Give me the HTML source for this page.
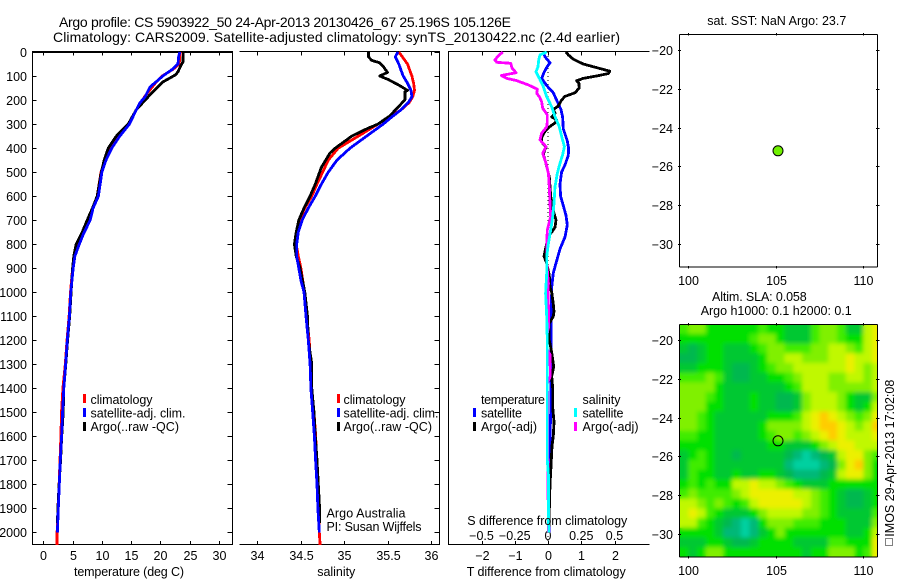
<!DOCTYPE html>
<html>
<head>
<meta charset="utf-8">
<title>Argo profile</title>
<style>
html,body{margin:0;padding:0;background:#fff;}
svg{display:block;}
text{font-family:"Liberation Sans",sans-serif;font-size:12.5px;fill:#000;}
</style>
</head>
<body>
<svg id="chart" xmlns="http://www.w3.org/2000/svg" width="900" height="580" viewBox="0 0 900 580">
  <defs>
    <clipPath id="heat-clip"><rect x="679.5" y="324" width="198" height="232.5"/></clipPath>
    <filter id="soft" x="-5%" y="-5%" width="110%" height="110%"><feGaussianBlur stdDeviation="2"/></filter>
  </defs>
  <text x="59" y="27" textLength="452" lengthAdjust="spacing" style="font-size:14px">Argo profile: CS 5903922_50 24-Apr-2013 20130426_67 25.196S 105.126E</text>
  <text x="53" y="42" textLength="567" lengthAdjust="spacing" style="font-size:14px">Climatology: CARS2009. Satellite-adjusted climatology: synTS_20130422.nc (2.4d earlier)</text>

  <g id="heat-layer" clip-path="url(#heat-clip)"></g>
  <g id="panels"></g>
  <g id="curves"></g>

  <!-- temperature legend -->
  <g>
    <rect x="83" y="394" width="3" height="9" fill="#f00"/>
    <rect x="83" y="408" width="3" height="9" fill="#00f"/>
    <rect x="83" y="422" width="3" height="9" fill="#000"/>
    <text x="90.5" y="404" textLength="62" lengthAdjust="spacing">climatology</text>
    <text x="90.5" y="417.5" textLength="95" lengthAdjust="spacing">satellite-adj. clim.</text>
    <text x="90.5" y="431" textLength="88.5" lengthAdjust="spacing">Argo(..raw -QC)</text>
  </g>
  <!-- salinity legend -->
  <g>
    <rect x="337" y="394" width="3" height="9" fill="#f00"/>
    <rect x="337" y="408" width="3" height="9" fill="#00f"/>
    <rect x="337" y="422" width="3" height="9" fill="#000"/>
    <text x="343.5" y="404" textLength="62" lengthAdjust="spacing">climatology</text>
    <text x="343.5" y="417.5" textLength="95" lengthAdjust="spacing">satellite-adj. clim.</text>
    <text x="343.5" y="431" textLength="88.5" lengthAdjust="spacing">Argo(..raw -QC)</text>
    <text x="326.5" y="517.5" textLength="79" lengthAdjust="spacing">Argo Australia</text>
    <text x="326.5" y="531" textLength="95" lengthAdjust="spacing">PI: Susan Wijffels</text>
  </g>
  <!-- difference legend -->
  <g>
    <text x="481" y="404" textLength="64" lengthAdjust="spacing">temperature</text>
    <rect x="473" y="408" width="3" height="9" fill="#00f"/>
    <rect x="473" y="422" width="3" height="9" fill="#000"/>
    <text x="481" y="417.5" textLength="41" lengthAdjust="spacing">satellite</text>
    <text x="481" y="431" textLength="56" lengthAdjust="spacing">Argo(-adj)</text>
    <text x="582.5" y="404" textLength="38" lengthAdjust="spacing">salinity</text>
    <rect x="574" y="408" width="3" height="9" fill="#0ff"/>
    <rect x="574" y="422" width="3" height="9" fill="#f0f"/>
    <text x="582.5" y="417.5" textLength="41" lengthAdjust="spacing">satellite</text>
    <text x="582.5" y="431" textLength="56" lengthAdjust="spacing">Argo(-adj)</text>
    <text x="467.3" y="525" textLength="160" lengthAdjust="spacing">S difference from climatology</text>
  </g>

  <text x="74" y="576" textLength="110" lengthAdjust="spacing">temperature (deg C)</text>
  <text x="317.3" y="576" textLength="38" lengthAdjust="spacing">salinity</text>
  <text x="466.7" y="576" textLength="159" lengthAdjust="spacing">T difference from climatology</text>

  <text x="707.3" y="25" textLength="139" lengthAdjust="spacing">sat. SST: NaN Argo: 23.7</text>
  <text x="712" y="301" textLength="94.7" lengthAdjust="spacing">Altim. SLA: 0.058</text>
  <text x="700.7" y="315" textLength="151" lengthAdjust="spacing">Argo h1000: 0.1 h2000: 0.1</text>

  <rect x="885.5" y="538.5" width="7" height="7" fill="none" stroke="#000" stroke-width="1" stroke-dasharray="1 1" shape-rendering="crispEdges"/>
  <text transform="translate(894,536.7) rotate(-90)" x="0" y="0" textLength="157" lengthAdjust="spacing">IMOS 29-Apr-2013 17:02:08</text>
</svg>

<script>
// ---------- temperature profiles ----------
const tempClimDepth = [0,20,50,71,100,130,186,240,300,352,400,450,500,600,650,700,755,800,850,900,1000,1100,1200,1300,1400,1500,1600,1700,1800,1900,2000,2053];
const tempClimValues = [23.4,23.3,23.2,22.2,20.3,19.1,17.3,15.9,14.6,12.9,11.6,10.6,9.85,9.2,8.4,7.7,6.6,5.95,5.3,5.0,4.65,4.4,4.05,3.75,3.35,3.1,3.0,2.85,2.7,2.5,2.35,2.35];
const tempSatDepth = [0,20,50,71,100,117,146,186,212,240,300,352,400,450,500,600,650,700,755,800,850,900,1000,1100,1200,1300,1400,1500,1600,1700,1800,1900,2000];
const tempSatValues = [23.3,23.1,23.0,22.1,20.4,19.6,18.2,17.4,16.5,15.9,14.7,13.0,11.7,10.7,10.0,9.4,8.5,8.0,6.9,6.15,5.4,5.1,4.7,4.45,4.1,3.8,3.5,3.3,3.13,2.9,2.73,2.56,2.4];
const tempArgoDepth = [0,41,60,83,96,125,179,240,300,352,400,450,500,600,650,700,755,800,850,900,1000,1100,1200,1300,1400,1500,1600,1700,1800,1900,1960];
const tempArgoValues = [23.9,23.85,23.4,23.0,22.5,20.4,18.2,15.9,14.5,12.4,11.1,10.4,9.9,9.2,8.4,7.5,6.55,5.6,5.2,5.0,4.75,4.5,4.15,3.85,3.5,3.4,3.15,2.95,2.7,2.5,2.4];

// ---------- salinity profiles ----------
const salClimDepth = [0,20,50,80,100,130,160,186,210,240,270,300,350,400,450,500,550,600,650,700,750,800,850,900,950,1000,1100,1200,1300,1400,1500,1600,1700,1800,1900,2000,2053];
const salClimValues = [35.63,35.67,35.73,35.76,35.78,35.80,35.81,35.79,35.75,35.66,35.53,35.39,35.165,34.935,34.82,34.755,34.69,34.63,34.55,34.49,34.46,34.45,34.475,34.505,34.525,34.545,34.57,34.6,34.615,34.625,34.655,34.675,34.685,34.695,34.705,34.716,34.725];
const salSatDepth = [0,20,50,80,100,130,160,186,210,240,270,300,350,400,450,500,550,600,650,700,750,800,850,900,950,1000,1100,1200,1300,1400,1500,1600,1700,1800,1900,2000];
const salSatValues = [35.62,35.59,35.63,35.66,35.68,35.73,35.77,35.78,35.74,35.66,35.55,35.45,35.26,35.07,34.92,34.82,34.74,34.67,34.59,34.52,34.475,34.456,34.456,34.48,34.505,34.54,34.563,34.59,34.61,34.62,34.64,34.66,34.674,34.69,34.70,34.716];
const salArgoDepth = [0,20,35,45,60,85,100,115,140,160,165,200,230,265,300,320,350,400,420,480,550,600,650,700,750,800,850,900,1000,1100,1200,1300,1400,1500,1600,1700,1800,1900,1960];
const salArgoValues = [35.28,35.28,35.32,35.41,35.45,35.50,35.41,35.51,35.64,35.73,35.70,35.70,35.62,35.53,35.39,35.26,35.09,34.90,34.84,34.74,34.67,34.61,34.54,34.48,34.45,34.43,34.45,34.495,34.55,34.58,34.59,34.63,34.63,34.655,34.67,34.69,34.705,34.72,34.722];

// ---------- difference profiles ----------
const diffTSatDepth = [0,20,45,60,85,110,140,170,200,240,270,320,370,400,430,470,500,550,600,640,680,720,770,820,870,920,980,1000,1100,1200,1300,1400,1500,1600,1700,1800,1900,2000];
const diffTSatValues = [-0.14,-0.09,0.06,-0.02,-0.12,-0.19,-0.04,0.16,0.26,0.39,0.44,0.46,0.58,0.62,0.61,0.51,0.41,0.36,0.38,0.46,0.54,0.58,0.51,0.36,0.26,0.16,0.11,0.11,0.10,0.09,0.10,0.09,0.08,0.06,0.04,0.04,0.04,0.04];
const diffTArgoDepth = [0,12,30,50,65,80,90,100,110,120,130,150,170,185,200,225,240,255,270,282,295,310,330,355,375,395,425,465,520,600,660,700,730,770,810,850,880,930,980,1000,1050,1080,1100,1130,1200,1250,1310,1350,1400,1480,1540,1600,1640,1700,1750,1800,2000];
const diffTArgoValues = [0.54,0.61,0.76,1.06,1.46,1.86,1.81,1.46,1.06,0.86,0.93,0.94,0.81,0.51,0.41,0.31,0.16,0.21,0.11,0.26,0.21,0.06,-0.09,-0.19,-0.19,-0.06,-0.14,-0.06,0.04,0.08,0.16,0.24,0.21,0.01,-0.06,-0.12,-0.04,0.04,0.06,0.11,0.16,0.18,0.16,0.04,0.04,0.11,0.17,0.11,0.14,0.14,0.18,0.16,0.12,0.1,0.08,0.06,0.02];
const diffSSatDepth = [0,12,33,61,82,110,144,186,228,269,311,352,394,429,463,505,561,630,686,741,797,852,921,1005,1100,1200,1400,1600,1700,1760,1800,2000];
const diffSSatValues = [-0.01,-0.06,-0.07,-0.075,-0.09,-0.065,-0.035,-0.01,0.028,0.053,0.085,0.103,0.123,0.11,0.09,0.07,0.053,0.045,0.035,0.02,0.003,-0.01,-0.01,-0.018,-0.01,-0.005,-0.005,-0.005,-0.005,0.003,0.003,0.005];
const diffSArgoDepth = [0,12,33,43,47,68,86,98,110,119,137,155,172,186,207,234,262,290,311,339,366,394,422,463,505,561,630,686,741,810,880,963,1000,1100,1150,1170,1240,1260,1350,1380,2000];
const diffSArgoValues = [-0.34,-0.366,-0.40,-0.386,-0.28,-0.27,-0.24,-0.35,-0.31,-0.236,-0.148,-0.08,-0.085,-0.065,-0.048,-0.04,-0.005,-0.005,-0.01,-0.048,-0.06,-0.015,-0.04,-0.015,0.003,0.01,0.015,0.02,-0.005,-0.01,-0.01,0.003,0,0.005,0.003,-0.005,-0.005,0.015,0.0175,-0.005,0.003];

// ---------- tick labels ----------
const depthTicks = [0,100,200,300,400,500,600,700,800,900,1000,1100,1200,1300,1400,1500,1600,1700,1800,1900,2000];
const tempTicks = [0,5,10,15,20,25,30];
const salTicks = [34,34.5,35,35.5,36];
const diffTTicks = [-2,-1,0,1,2];
const diffSTicks = [-0.5,-0.25,0,0.25,0.5];
const lonTicks = [100,105,110];
const latTicks = [-20,-22,-24,-26,-28,-30];

// ---------- float position ----------
const floatLon = 105.126;
const floatLat = -25.196;

// ---------- SLA map: colour level per half-degree cell, north to south ----------
const slaLevels = [
[5,6,6,4,4,4,4,4,4,5,4,4,3,3,3,5,6,6,5,3,3,7,8],
[4,4,4,4,4,4,4,4,5,6,6,4,3,3,3,5,6,6,5,4,4,7,8],
[3,2,3,4,4,3,3,3,4,5,6,6,5,5,5,6,6,7,7,6,5,7,8],
[2,2,3,4,4,3,3,3,3,4,6,6,7,7,6,6,6,7,7,8,7,7,8],
[3,3,4,4,4,3,2,2,3,4,5,6,6,7,7,7,7,7,7,8,7,6,7],
[5,5,5,6,5,3,2,2,3,3,4,4,5,6,7,7,7,6,6,7,7,6,7],
[6,6,6,6,4,3,3,3,3,3,3,3,4,5,7,7,7,6,6,6,6,6,7],
[6,6,6,5,4,3,3,3,4,3,3,2,2,3,6,7,7,7,6,4,3,3,6],
[6,6,6,4,4,3,3,3,4,3,3,2,2,3,6,7,7,7,6,4,3,4,7],
[6,6,5,4,3,3,3,3,3,3,4,4,4,5,7,8,9,8,7,6,5,6,8],
[6,6,5,4,3,3,3,3,3,4,6,6,6,6,7,8,9,9,8,7,6,7,9],
[5,5,4,4,3,3,3,3,3,4,5,6,6,5,6,7,8,9,8,7,7,7,8],
[4,4,4,4,3,3,3,3,3,3,4,4,3,3,3,4,6,7,8,8,7,7,7],
[3,4,5,4,3,3,2,3,3,3,3,3,2,1,0,1,2,3,7,8,8,6,5],
[3,5,5,4,3,3,3,3,3,3,3,3,1,0,0,0,1,2,6,8,9,6,4],
[3,5,4,4,3,3,4,3,3,4,4,3,2,1,1,1,2,3,7,8,8,6,4],
[4,5,4,5,4,4,7,7,8,7,7,6,5,4,3,3,3,4,4,4,4,4,4],
[5,6,5,5,5,5,6,7,8,8,8,8,8,7,7,6,5,4,3,2,2,3,4],
[7,7,6,5,6,5,4,5,7,8,8,8,8,8,7,6,5,4,3,2,2,3,4],
[7,8,7,5,4,3,3,3,4,6,7,7,7,7,6,6,5,4,3,3,3,3,5],
[7,7,5,4,3,2,1,0,1,4,6,6,6,5,5,5,4,4,4,3,3,3,6],
[4,4,4,4,3,1,1,0,1,3,4,6,4,4,4,4,4,4,4,3,3,4,7],
[3,3,3,4,4,3,2,2,3,4,4,4,4,3,3,3,3,5,5,4,4,4,8],
[4,3,4,6,6,4,4,4,4,4,4,4,4,4,3,4,4,6,6,6,4,5,8]
];
const slaColors = ["#00d0a0","#00b878","#00b850","#00c830","#00e000","#40ec00","#80f000","#c0f800","#ecf000","#ffcc00"];
const slaFirstLon = 99.5;
const slaFirstLat = -19.18;
const slaStep = 0.5;

// ---------- axis functions ----------
const NS = "http://www.w3.org/2000/svg";
const xTemp = v => 43.3 + v * 5.857;
const xSal = v => 257 + (v - 34) * 87;
const xDiffT = v => 548 + v * 33.25;
const xDiffS = v => 548 + v * 133;
const yDepth = d => 52 + d * 0.2402;
const xLon = v => 688.3 + (v - 100) * 17.5;
const yLat4 = v => 50 + (-20 - v) * 19.4;
const yLat5 = v => 340 + (-20 - v) * 19.4;

const panelsLayer = document.getElementById("panels");
const curvesLayer = document.getElementById("curves");
const heatLayer = document.getElementById("heat-layer");

function mk(parent, tag, attrs) {
  const el = document.createElementNS(NS, tag);
  for (const k in attrs) el.setAttribute(k, attrs[k]);
  parent.appendChild(el);
  return el;
}
function seg(x1, y1, x2, y2) {
  const el = mk(panelsLayer, "line", {x1: x1, y1: y1, x2: x2, y2: y2, stroke: "#000", "stroke-width": 1, "shape-rendering": "crispEdges"});
  
  
  return el;
}
function label(txt, x, y, anchor) {
  const el = mk(panelsLayer, "text", {x: x, y: y, "text-anchor": anchor});
  el.textContent = txt;
  
  
  return el;
}
const fmt = v => String(v).replace("-", "\u2212");

// temperature panel frame
seg(32.5, 51.5, 232.5, 51.5); seg(32.5, 52.5, 232.5, 52.5); seg(32.5, 51, 32.5, 545); seg(232.5, 51, 232.5, 545); seg(32.5, 544.5, 232.5, 544.5);
// salinity panel frame
seg(239.5, 51.5, 439.5, 51.5); seg(239.5, 544.5, 439.5, 544.5); seg(439.5, 51, 439.5, 545);
// difference panel frame
seg(448.5, 51.5, 649.5, 51.5); seg(448.5, 51, 448.5, 545); seg(448.5, 544.5, 649.5, 544.5);

depthTicks.forEach(d => {
  const y = Math.round(yDepth(d)) + 0.5;
  seg(32.5, y, 36.5, y);
  seg(227.5, y, 232.5, y);
  seg(434.5, y, 439.5, y);
  label(fmt(d), 27, y + 4.5, "end");
});
tempTicks.forEach(v => {
  const x = Math.round(xTemp(v)) + 0.5;
  seg(x, 52, x, 55.5); seg(x, 541, x, 544.5);
  label(fmt(v), x, 560, "middle");
});
salTicks.forEach(v => {
  const x = Math.round(xSal(v)) + 0.5;
  seg(x, 52, x, 55.5); seg(x, 541, x, 544.5);
  label(fmt(v), x, 560, "middle");
});
diffTTicks.forEach(v => {
  const x = Math.round(xDiffT(v)) + 0.5;
  seg(x, 52, x, 55.5); seg(x, 541, x, 544.5);
  label(fmt(v), x, 560, "middle");
});
diffSTicks.forEach(v => {
  label(fmt(v), xDiffS(v), 540, "middle");
});

// zero reference line in the difference panel
const zeroLine = mk(panelsLayer, "line", {x1: xDiffT(0), y1: 52, x2: xDiffT(0), y2: 544, stroke: "#000", "stroke-width": 1, "stroke-dasharray": "1 3", "shape-rendering": "crispEdges"});



// map frames and ticks
[[34, 266.5, yLat4, 285], [324, 556.5, yLat5, 575]].forEach(m => {
  const top = m[0] + 0.5, bot = m[1] + 0.5, yf = m[2], lab = m[3];
  seg(679.5, top, 877.5, top); seg(679.5, bot, 877.5, bot); seg(679.5, top, 679.5, bot); seg(877.5, top, 877.5, bot);
  lonTicks.forEach(v => {
    const x = Math.round(xLon(v)) + 0.5;
    seg(x, top - 1.5, x, top + 1); seg(x, bot - 1, x, bot + 1.5);
    label(fmt(v), x, lab, "middle");
  });
  latTicks.forEach(v => {
    const y = Math.round(yf(v)) + 0.5;
    seg(678, y, 681, y); seg(876, y, 879.5, y);
    label(fmt(v), 673, y + 4.5, "end");
  });
});

// heatmap
const heatBase = mk(heatLayer, "g", {id: "heat-cells"});


slaLevels.forEach((row, r) => {
  row.forEach((lvl, c) => {
    const x0 = xLon(slaFirstLon + c * slaStep), x1 = xLon(slaFirstLon + (c + 1) * slaStep);
    const y0 = yLat5(slaFirstLat - r * slaStep), y1 = yLat5(slaFirstLat - (r + 1) * slaStep);
    const cell = mk(heatBase, "rect", {x: x0, y: y0, width: x1 - x0 + 0.5, height: y1 - y0 + 0.5, fill: slaColors[lvl]});
    
    
  });
});
const heatSoft = heatBase.cloneNode(true);
heatSoft.removeAttribute("id");
heatSoft.setAttribute("filter", "url(#soft)");
heatLayer.appendChild(heatSoft);

// curves
function curve(name, depths, vals, xf, color) {
  const pts = depths.map((d, i) => xf(vals[i]).toFixed(1) + "," + yDepth(d).toFixed(1)).join(" ");
  const el = mk(curvesLayer, "polyline", {points: pts, fill: "none", stroke: color, "stroke-width": 2.8, "stroke-linejoin": "round", "shape-rendering": "crispEdges"});
  
  
}
curve("temperature-climatology-line", tempClimDepth, tempClimValues, xTemp, "#f00");
curve("temperature-argo-line", tempArgoDepth, tempArgoValues, xTemp, "#000");
curve("temperature-satellite-line", tempSatDepth, tempSatValues, xTemp, "#00f");
curve("salinity-climatology-line", salClimDepth, salClimValues, xSal, "#f00");
curve("salinity-argo-line", salArgoDepth, salArgoValues, xSal, "#000");
curve("salinity-satellite-line", salSatDepth, salSatValues, xSal, "#00f");
curve("t-difference-satellite-line", diffTSatDepth, diffTSatValues, xDiffT, "#00f");
curve("t-difference-argo-line", diffTArgoDepth, diffTArgoValues, xDiffT, "#000");
curve("s-difference-argo-line", diffSArgoDepth, diffSArgoValues, xDiffS, "#f0f");
curve("s-difference-satellite-line", diffSSatDepth, diffSSatValues, xDiffS, "#0ff");

// float markers
const sstDot = mk(curvesLayer, "circle", {cx: xLon(floatLon), cy: yLat4(floatLat), r: 5, fill: "#70f000", stroke: "#000", "stroke-width": 1});


const slaDot = mk(curvesLayer, "circle", {cx: xLon(floatLon), cy: yLat5(floatLat), r: 5, fill: "none", stroke: "#000", "stroke-width": 1});


</script>
</body>
</html>
